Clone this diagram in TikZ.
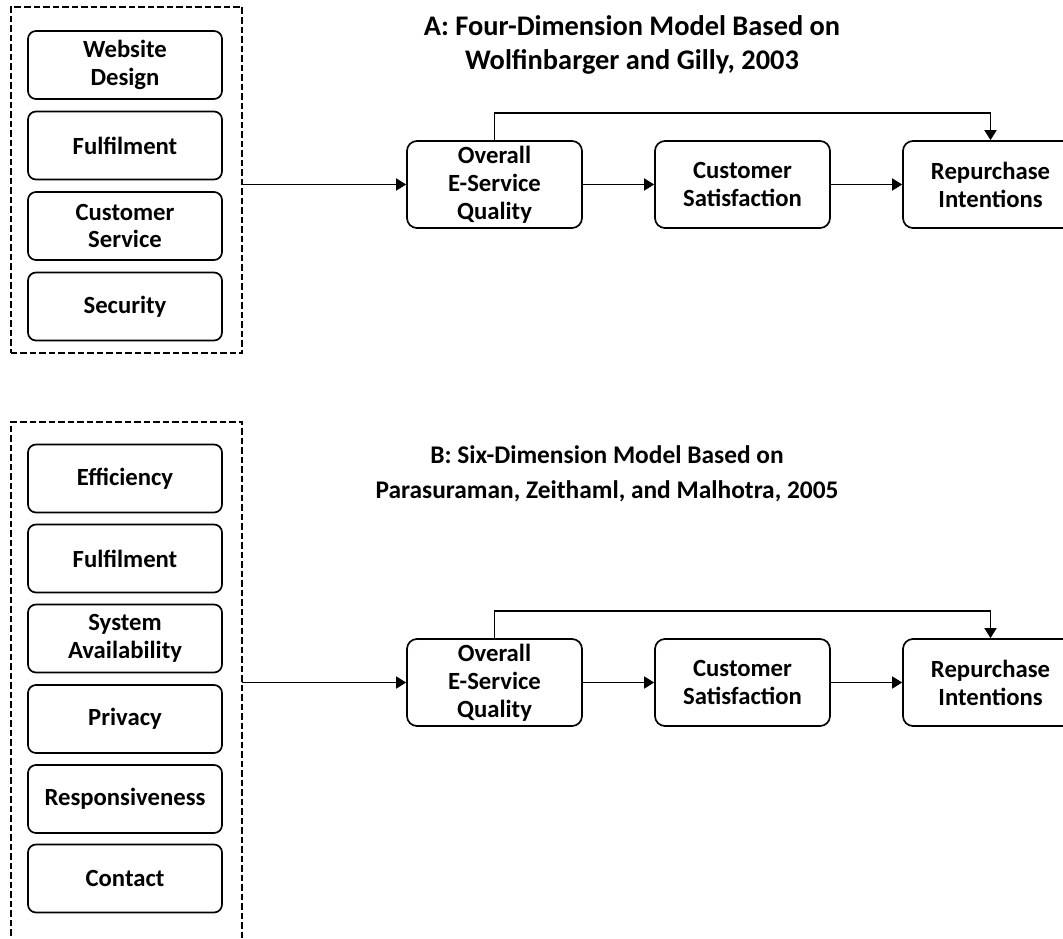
\documentclass[tikz,border=0pt]{standalone}
\usepackage{fontspec}
\setmainfont{Carlito}
\usetikzlibrary{arrows.meta}
\begin{document}
\begin{tikzpicture}[x=1bp,y=-1bp,
  dimbox/.style={draw, rounded corners=8bp, line width=1.7bp,
    minimum width=194bp, minimum height=68bp, inner sep=0pt, align=center,
    font=\fontsize{24.8}{28}\selectfont\bfseries},
  stagebox/.style={dimbox, rounded corners=10bp, minimum width=175bp, minimum height=87bp},
  groupbox/.style={draw, line width=1.8bp, dash pattern=on 6.5bp off 3bp},
  titletext/.style={align=center, font=\fontsize{25.5}{35.5}\selectfont\bfseries},
  link/.style={line width=1.7bp, -{Triangle[length=10bp,width=12bp]}},
]
\useasboundingbox (0,0) rectangle (1063,939);

% ---------- Model A ----------
\node[titletext, font=\fontsize{28.5}{35}\selectfont\bfseries] (titleA) at (632,45)
  {A: Four-Dimension Model Based on\\Wolfinbarger and Gilly, 2003};

\node[groupbox, minimum width=231bp, minimum height=346bp] (groupA) at (126.5,180) {};
\node[dimbox] (a1) at (125,65)    {Website\\Design};
\node[dimbox] (a2) at (125,145.5) {Fulfilment};
\node[dimbox] (a3) at (125,226)   {Customer\\Service};
\node[dimbox] (a4) at (125,306.5) {Security};

\node[stagebox] (qA) at (494.5,184.5) {Overall\\E-Service\\Quality};
\node[stagebox] (sA) at (742.5,184.5) {Customer\\Satisfaction};
\node[stagebox] (rA) at (990.5,184.5) {Repurchase\\Intentions};

\draw[link] (groupA.east |- qA.west) -- (qA.west);
\draw[link] (qA.east) -- (sA.west);
\draw[link] (sA.east) -- (rA.west);
\draw[link] (qA.north) -- ++(0,-27) -| (rA.north);

% ---------- Model B ----------
\node[titletext] (titleB) at (607,474)
  {B: Six-Dimension Model Based on\\Parasuraman, Zeithaml, and Malhotra, 2005};

\coordinate (gBleft) at (11,422);
\coordinate (gBright) at (242,422);
\draw[groupbox] (11,945) -- (gBleft) -- (gBright) -- (242,945);
\node[dimbox] (b1) at (125,478.5) {Efficiency};
\node[dimbox] (b2) at (125,558.5) {Fulfilment};
\node[dimbox] (b3) at (125,638.5) {System\\Availability};
\node[dimbox] (b4) at (125,719)   {Privacy};
\node[dimbox] (b5) at (125,799)   {Responsiveness};
\node[dimbox] (b6) at (125,878.5) {Contact};

\node[stagebox] (qB) at (494.5,682.5) {Overall\\E-Service\\Quality};
\node[stagebox] (sB) at (742.5,682.5) {Customer\\Satisfaction};
\node[stagebox] (rB) at (990.5,682.5) {Repurchase\\Intentions};

\draw[link] (gBright |- qB.west) -- (qB.west);
\draw[link] (qB.east) -- (sB.west);
\draw[link] (sB.east) -- (rB.west);
\draw[link] (qB.north) -- ++(0,-27) -| (rB.north);
\end{tikzpicture}
\end{document}
